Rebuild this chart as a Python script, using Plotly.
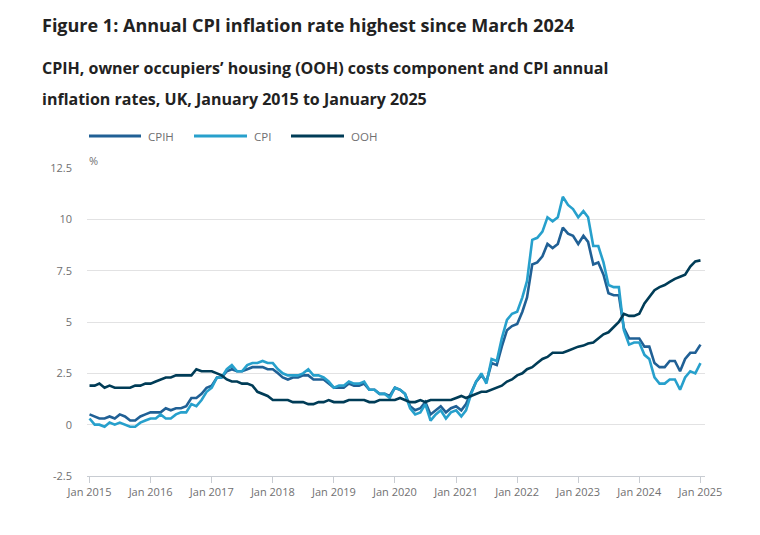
import plotly.graph_objects as go
import pandas as pd

# ---- data (annual % rates, monthly Jan 2015 - Jan 2025) ----
cpih = [
    0.5, 0.4, 0.3, 0.3, 0.4, 0.3, 0.5, 0.4, 0.2, 0.2, 0.4, 0.5,
    0.6, 0.6, 0.6, 0.8, 0.7, 0.8, 0.8, 0.9, 1.3, 1.3, 1.5, 1.8,
    1.9, 2.3, 2.3, 2.6, 2.7, 2.6, 2.6, 2.7, 2.8, 2.8, 2.8, 2.7,
    2.7, 2.5, 2.3, 2.2, 2.3, 2.3, 2.4, 2.4, 2.2, 2.2, 2.2, 2.0,
    1.8, 1.8, 1.8, 2.0, 1.9, 1.9, 2.0, 1.7, 1.7, 1.5, 1.5, 1.4,
    1.8, 1.7, 1.5, 0.9, 0.7, 0.8, 1.1, 0.5, 0.7, 0.9, 0.6, 0.8,
    0.9, 0.7, 1.0, 1.6, 2.1, 2.4, 2.1, 3.0, 2.9, 3.8, 4.6, 4.8,
    4.9, 5.5, 6.2, 7.8, 7.9, 8.2, 8.8, 8.6, 8.8, 9.6, 9.3, 9.2,
    8.8, 9.2, 8.9, 7.8, 7.9, 7.3, 6.4, 6.3, 6.3, 4.7, 4.2, 4.2,
    4.2, 3.8, 3.8, 3.0, 2.8, 2.8, 3.1, 3.1, 2.6, 3.2, 3.5, 3.5,
    3.9,
]
cpi = [
    0.3, 0.0, 0.0, -0.1, 0.1, 0.0, 0.1, 0.0, -0.1, -0.1, 0.1, 0.2,
    0.3, 0.3, 0.5, 0.3, 0.3, 0.5, 0.6, 0.6, 1.0, 0.9, 1.2, 1.6,
    1.8, 2.3, 2.3, 2.7, 2.9, 2.6, 2.6, 2.9, 3.0, 3.0, 3.1, 3.0,
    3.0, 2.7, 2.5, 2.4, 2.4, 2.4, 2.5, 2.7, 2.4, 2.4, 2.3, 2.1,
    1.8, 1.9, 1.9, 2.1, 2.0, 2.0, 2.1, 1.7, 1.7, 1.5, 1.5, 1.3,
    1.8, 1.7, 1.5, 0.8, 0.5, 0.6, 1.0, 0.2, 0.5, 0.7, 0.3, 0.6,
    0.7, 0.4, 0.7, 1.5, 2.1, 2.5, 2.0, 3.2, 3.1, 4.2, 5.1, 5.4,
    5.5, 6.2, 7.0, 9.0, 9.1, 9.4, 10.1, 9.9, 10.1, 11.1, 10.7, 10.5,
    10.1, 10.4, 10.1, 8.7, 8.7, 7.9, 6.8, 6.7, 6.7, 4.6, 3.9, 4.0,
    4.0, 3.4, 3.2, 2.3, 2.0, 2.0, 2.2, 2.2, 1.7, 2.3, 2.6, 2.5,
    3.0,
]
ooh = [
    1.9, 1.9, 2.0, 1.8, 1.9, 1.8, 1.8, 1.8, 1.8, 1.9, 1.9, 2.0,
    2.0, 2.1, 2.2, 2.3, 2.3, 2.4, 2.4, 2.4, 2.4, 2.7, 2.6, 2.6,
    2.6, 2.5, 2.4, 2.2, 2.1, 2.1, 2.0, 2.0, 1.9, 1.6, 1.5, 1.4,
    1.2, 1.2, 1.2, 1.2, 1.1, 1.1, 1.1, 1.0, 1.0, 1.1, 1.1, 1.2,
    1.1, 1.1, 1.1, 1.2, 1.2, 1.2, 1.2, 1.1, 1.1, 1.2, 1.2, 1.2,
    1.2, 1.3, 1.2, 1.1, 1.1, 1.2, 1.1, 1.2, 1.2, 1.2, 1.2, 1.2,
    1.3, 1.4, 1.3, 1.4, 1.5, 1.6, 1.6, 1.7, 1.8, 1.9, 2.1, 2.2,
    2.4, 2.5, 2.7, 2.8, 3.0, 3.2, 3.3, 3.5, 3.5, 3.5, 3.6, 3.7,
    3.8, 3.85, 3.95, 4.0, 4.2, 4.4, 4.5, 4.75, 5.0, 5.4, 5.3, 5.3,
    5.4, 5.9, 6.2, 6.55, 6.7, 6.8, 6.95, 7.1, 7.2, 7.3, 7.7, 7.95,
    8.0,
]
dates = pd.date_range("2015-01-01", periods=len(cpih), freq="MS")

series_names = ["CPIH", "CPI", "OOH"]
series_colors = ["#206095", "#27a0cc", "#003c57"]
series_values = [cpih, cpi, ooh]

y_ticks = [-2.5, 0, 2.5, 5, 7.5, 10, 12.5]
y_tick_text = ["-2.5", "0", "2.5", "5", "7.5", "10", "12.5"]
x_ticks = pd.date_range("2015-01-01", "2025-01-01", freq="YS")

FONT = "Open Sans"
W, H = 760, 535
L, R, T, B = 87, 705, 168, 476

def xp(px):
    return (px - L) / (R - L)

def yp(py):
    return (B - py) / (B - T)

fig = go.Figure()
for name, color, vals in zip(series_names, series_colors, series_values):
    fig.add_trace(go.Scatter(
        x=dates, y=vals, name=name, mode="lines",
        line=dict(color=color, width=2.6), showlegend=False,
    ))

fig.update_layout(
    width=W, height=H,
    margin=dict(l=L, r=W - R, t=T, b=H - B, pad=0),
    paper_bgcolor="white", plot_bgcolor="white",
    font=dict(family=FONT, size=11, color="#707071"),
)
fig.update_xaxes(
    type="date",
    range=["2014-12-17", "2025-01-28"],
    tickvals=x_ticks, tickformat="%b %Y",
    ticks="outside", ticklen=6, tickcolor="#c8ccd2", tickwidth=1,
    showline=True, linecolor="#c8ccd2", linewidth=1,
    showgrid=False, zeroline=False,
    tickfont=dict(family=FONT, size=11, color="#707071"),
)
fig.update_yaxes(
    range=[-2.5, 12.5],
    tickvals=y_ticks, ticktext=y_tick_text,
    showgrid=True, gridcolor="#e2e2e3", gridwidth=1,
    zeroline=False, showline=False, ticks="",
    ticklabelstandoff=14,
    tickfont=dict(family=FONT, size=11, color="#707071"),
)

# titles
fig.add_annotation(
    text="<b>Figure 1: Annual CPI inflation rate highest since March 2024</b>",
    xref="paper", yref="paper", x=xp(40), y=yp(25), xanchor="left", yanchor="middle",
    showarrow=False, font=dict(family=FONT, size=18, color="#222222"),
)
fig.add_annotation(
    text="<b>CPIH, owner occupiers’ housing (OOH) costs component and CPI annual</b>",
    xref="paper", yref="paper", x=xp(40), y=yp(68), xanchor="left", yanchor="middle",
    showarrow=False, font=dict(family=FONT, size=16, color="#222222"),
)
fig.add_annotation(
    text="<b>inflation rates, UK, January 2015 to January 2025</b>",
    xref="paper", yref="paper", x=xp(40), y=yp(99), xanchor="left", yanchor="middle",
    showarrow=False, font=dict(family=FONT, size=16, color="#222222"),
)
fig.add_annotation(
    text="%", xref="paper", yref="paper", x=xp(87), y=yp(160),
    xanchor="left", yanchor="middle", showarrow=False,
    font=dict(family=FONT, size=11, color="#707071"),
)

# legend (manual)
legend_x = [(89, 141, 146), (194, 247, 252), (291, 344, 349)]
for (x0, x1, tx), name, color in zip(legend_x, series_names, series_colors):
    fig.add_shape(type="line", xref="paper", yref="paper",
                  x0=xp(x0), x1=xp(x1), y0=yp(136), y1=yp(136),
                  line=dict(color=color, width=3))
    fig.add_annotation(text=name, xref="paper", yref="paper", x=xp(tx), y=yp(136),
                       xanchor="left", yanchor="middle", showarrow=False,
                       font=dict(family=FONT, size=11.5, color="#707071"))

fig.write_html("out.html")
